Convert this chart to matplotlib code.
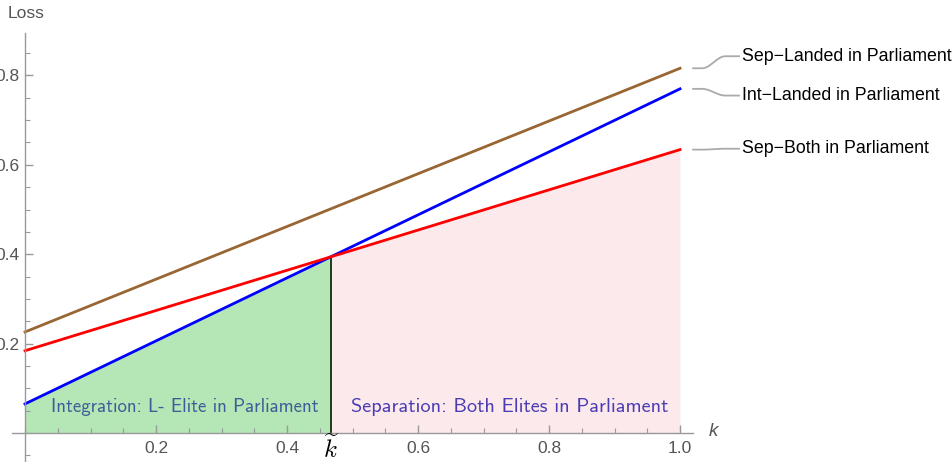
import matplotlib.pyplot as plt
from matplotlib.ticker import MultipleLocator
import numpy as np

plt.rcParams["mathtext.fontset"] = "cm"

# line endpoints (value at k=0 and k=1)
k = [0.0, 1.0]
sep_landed = [0.226, 0.816]
int_landed = [0.065, 0.770]
sep_both = [0.184, 0.634]
names = ["Sep\u2212Landed in Parliament", "Int\u2212Landed in Parliament", "Sep\u2212Both in Parliament"]
label_y = [0.843, 0.755, 0.636]
xticks = [0.2, 0.4, 0.6, 0.8, 1.0]
yticks = [0.2, 0.4, 0.6, 0.8]

fig = plt.figure(figsize=(9.53, 4.62), dpi=100)
ax = fig.add_axes([0.0125, 0.0, 0.7148, 0.9286])
ax.set_xlim(-0.02, 1.02)
ax.set_ylim(-0.065, 0.895)

# crossing point
kt = (sep_both[0] - int_landed[0]) / ((int_landed[1] - int_landed[0]) - (sep_both[1] - sep_both[0]))
ls = np.linspace(0, kt, 50)
rs = np.linspace(kt, 1, 50)
blue = np.interp(ls, k, int_landed)
red = np.interp(rs, k, sep_both)
ax.fill_between(ls, 0, blue, color="#b5e6b5", lw=0)
ax.fill_between(rs, 0, red, color="#fbe9ec", lw=0)
ax.plot([kt, kt], [0, np.interp(kt, k, sep_both)], color="#103010", lw=1.3)

ax.plot(k, sep_landed, color="#996633", lw=2.0)
ax.plot(k, int_landed, color="#0000ff", lw=2.0)
ax.plot(k, sep_both, color="#ff0000", lw=2.0)

# callouts
ends = [sep_landed[1], int_landed[1], sep_both[1]]
for e, ly, nm in zip(ends, label_y, names):
    xs = np.linspace(1.02, 1.09, 30)
    t = (xs - 1.02) / 0.07
    s = np.clip((t - 0.2) / 0.5, 0, 1)
    s = s * s * (3 - 2 * s)
    ax.plot(xs, e + (ly - e) * s, color="#aaaaaa", lw=1.3, clip_on=False)
    ax.text(1.095, ly, nm, fontsize=12.8, family="Liberation Sans", va="center", ha="left")

ax.text(0.04, 0.058, "Integration: L- Elite in Parliament", family="cmss10", fontsize=13.6,
        color="#3a5f98", va="center")
ax.text(0.497, 0.058, "Separation: Both Elites in Parliament", family="cmss10", fontsize=14.6,
        color="#4b3cb4", va="center")
ax.text(kt, -0.055, r"$\widetilde{k}$", fontsize=18, ha="center", va="baseline", zorder=5)

for sp in ["top", "right"]:
    ax.spines[sp].set_visible(False)
ax.spines["left"].set_position(("data", 0))
ax.spines["bottom"].set_position(("data", 0))
for sp in ["left", "bottom"]:
    ax.spines[sp].set_color("#999999")
    ax.spines[sp].set_linewidth(1.0)

ax.set_xticks(xticks)
ax.set_yticks(yticks)
ax.xaxis.set_minor_locator(MultipleLocator(0.05))
ax.yaxis.set_minor_locator(MultipleLocator(0.05))
ax.tick_params(which="both", direction="in", color="#999999", labelcolor="#555555",
               labelsize=12.5, labelfontfamily="Liberation Sans")
ax.tick_params(which="major", length=6, width=1)
ax.tick_params(which="minor", length=3.5, width=0.8)
ax.tick_params(axis="x", pad=6)
ax.tick_params(axis="y", pad=4)

fig.text(8 / 953, 1 - 14 / 462, "Loss", fontsize=12.5, color="#555555", family="Liberation Sans",
         va="center")
fig.text(709 / 953, 1 - 432 / 462, "k", fontsize=13.5, color="#555555", family="Liberation Sans",
         style="italic", va="center")

fig.savefig("out.png", dpi=100)
